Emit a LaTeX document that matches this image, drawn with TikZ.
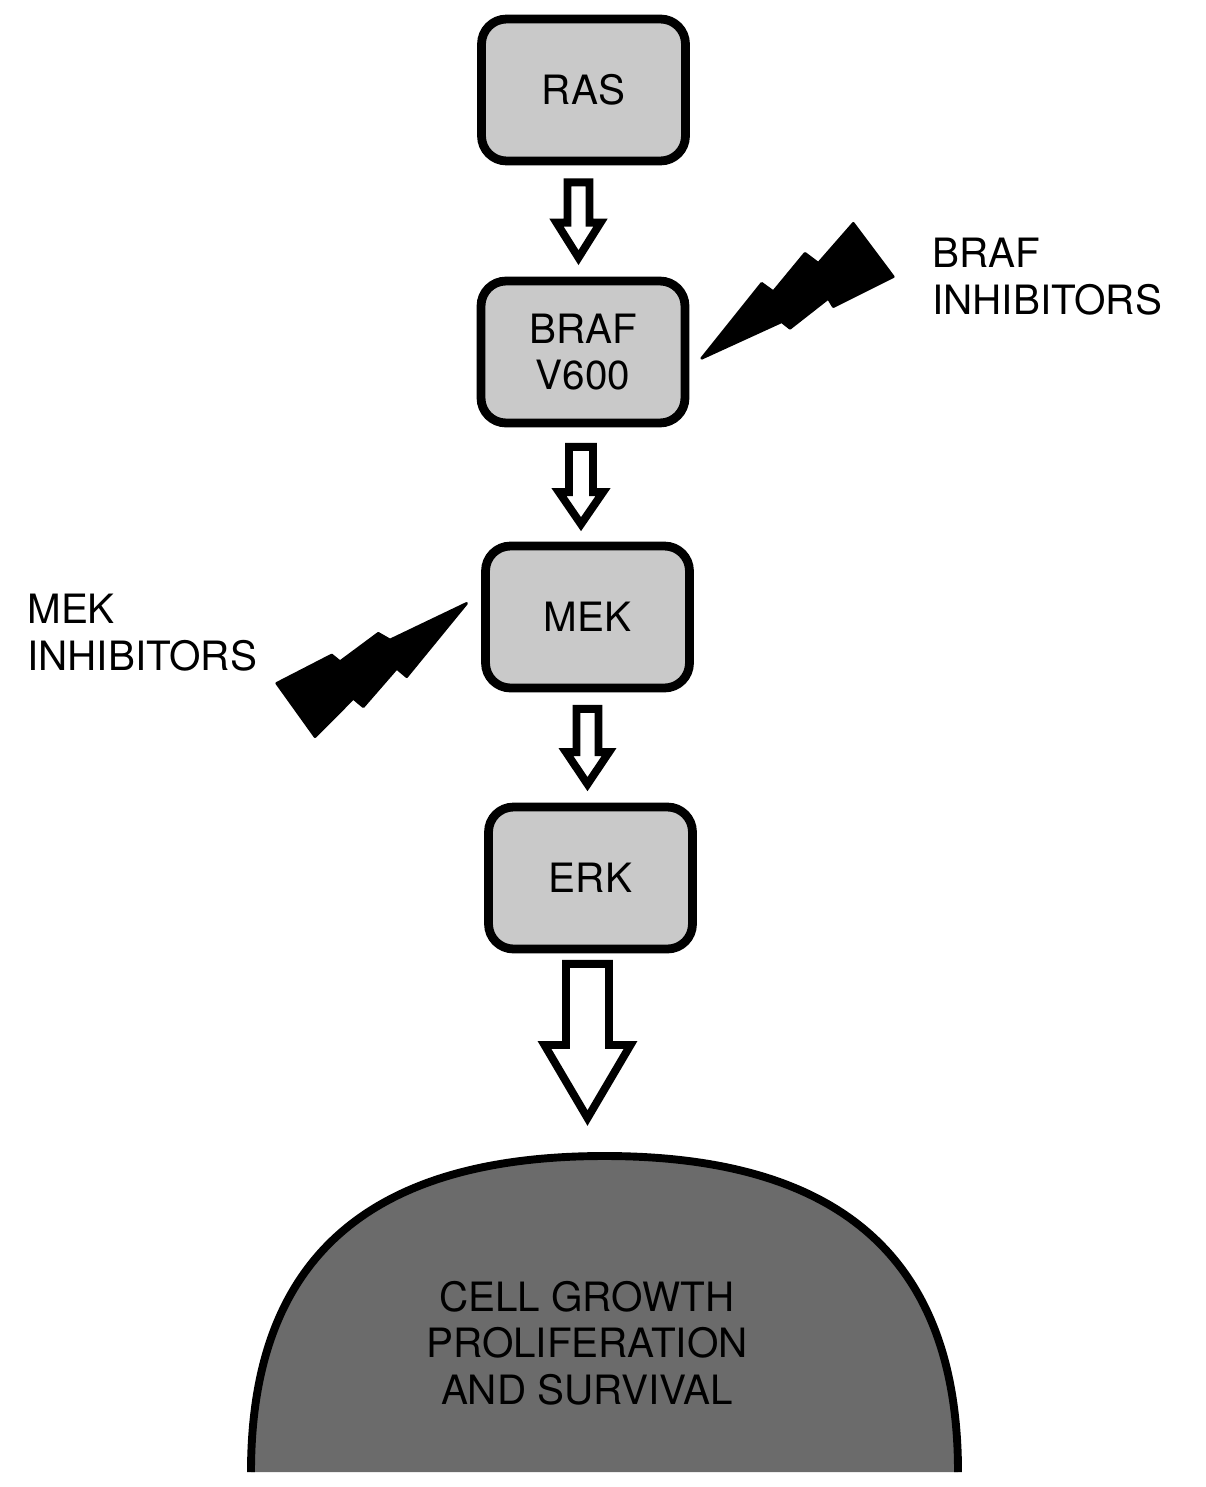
\documentclass[tikz,border=0pt]{standalone}
\usepackage{fontspec}
\setmainfont{TeX Gyre Heros}
\usetikzlibrary{calc}

\definecolor{boxgray}{gray}{0.79}
\definecolor{cellgray}{gray}{0.42}
\newcommand{\labelfont}{\fontsize{23}{26.5}\selectfont}

% block arrow: top, tip, shaft half width, head half width, head length
\newcommand{\blockarrow}[5]{%
  \draw[blockarrow] ($(#1)+(-#3,0)$) -- ($(#1 |- #2)+(-#3,-#5)$) -- ($(#1 |- #2)+(-#4,-#5)$)
    -- (#1 |- #2) -- ($(#1 |- #2)+(#4,-#5)$) -- ($(#1 |- #2)+(#3,-#5)$) -- ($(#1)+(#3,0)$) -- cycle;}

\tikzset{
  kinase/.style={draw, fill=boxgray, line width=5pt, rounded corners=0.5cm,
    minimum width=4.08cm, minimum height=2.84cm, align=center, font=\labelfont},
  blockarrow/.style={draw, fill=white, line width=4.5pt, line join=miter},
  bolt/.style={draw, fill=black, line width=1.5pt, line join=round},
  druglabel/.style={align=left, inner sep=0pt, font=\labelfont},
}

\begin{document}
\begin{tikzpicture}[x=0.02cm,y=-0.02cm]
  \useasboundingbox (0,0) rectangle (1205,1487);

  % pathway
  \node[kinase] (ras)  at (583.5,90) {RAS};
  \node[kinase] (braf) at (583,352)  {BRAF\\V600};
  \node[kinase] (mek)  at (587.5,617) {MEK};
  \node[kinase] (erk)  at (590.5,878) {ERK};

  % cell
  \coordinate (celltop) at (604.5,1152);
  \draw[line width=4.5pt, fill=cellgray] (251,1472) .. controls (251,1262) and (365,1156) .. (604.5,1156)
    .. controls (844,1156) and (958,1262) .. (958,1472);
  \node[align=center, font=\labelfont] (cell) at (587,1343) {CELL GROWTH\\PROLIFERATION\\AND SURVIVAL};

  % arrows
  \coordinate (t1) at ($(ras.south)+(-5,17)$);
  \coordinate (h1) at ($(braf.north)+(0,-19)$);
  \coordinate (t2) at ($(braf.south)+(-2,19.5)$);
  \coordinate (h2) at ($(mek.north)+(0,-17.5)$);
  \coordinate (t3) at ($(mek.south)+(0,16.5)$);
  \coordinate (h3) at ($(erk.north)+(0,-18.5)$);
  \coordinate (t4) at ($(erk.south)+(-3,10.5)$);
  \coordinate (h4) at ($(celltop)+(0,-34)$);
  \blockarrow{t1}{h1}{11}{22}{35}
  \blockarrow{t2}{h2}{12}{22}{32}
  \blockarrow{t3}{h3}{11}{21.5}{32}
  \blockarrow{t4}{h4}{21.5}{43}{73}

  % inhibitors
  \draw[bolt] (701.7,358.3) -- (761.7,283.3) -- (773.3,291.7) -- (805,253.3) -- (818.3,263.3)
    -- (853.3,223.3) -- (893.3,276.7) -- (833.3,306.7) -- (828.3,298.3) -- (790,328.3)
    -- (781.7,321.7) -- cycle;
  \draw[bolt] (466.7,603.3) -- (406.7,676.7) -- (396.7,668.3) -- (363.3,706.7) -- (353.3,698.3)
    -- (315,736.7) -- (276.7,683.3) -- (331.7,655) -- (340,661.7) -- (378.3,633.3)
    -- (390,640) -- cycle;
  \node[druglabel, anchor=base west] (brafinh) at (932,314) {BRAF\\INHIBITORS};
  \node[druglabel, anchor=base west] (mekinh) at (27,670) {MEK\\INHIBITORS};
\end{tikzpicture}
\end{document}
